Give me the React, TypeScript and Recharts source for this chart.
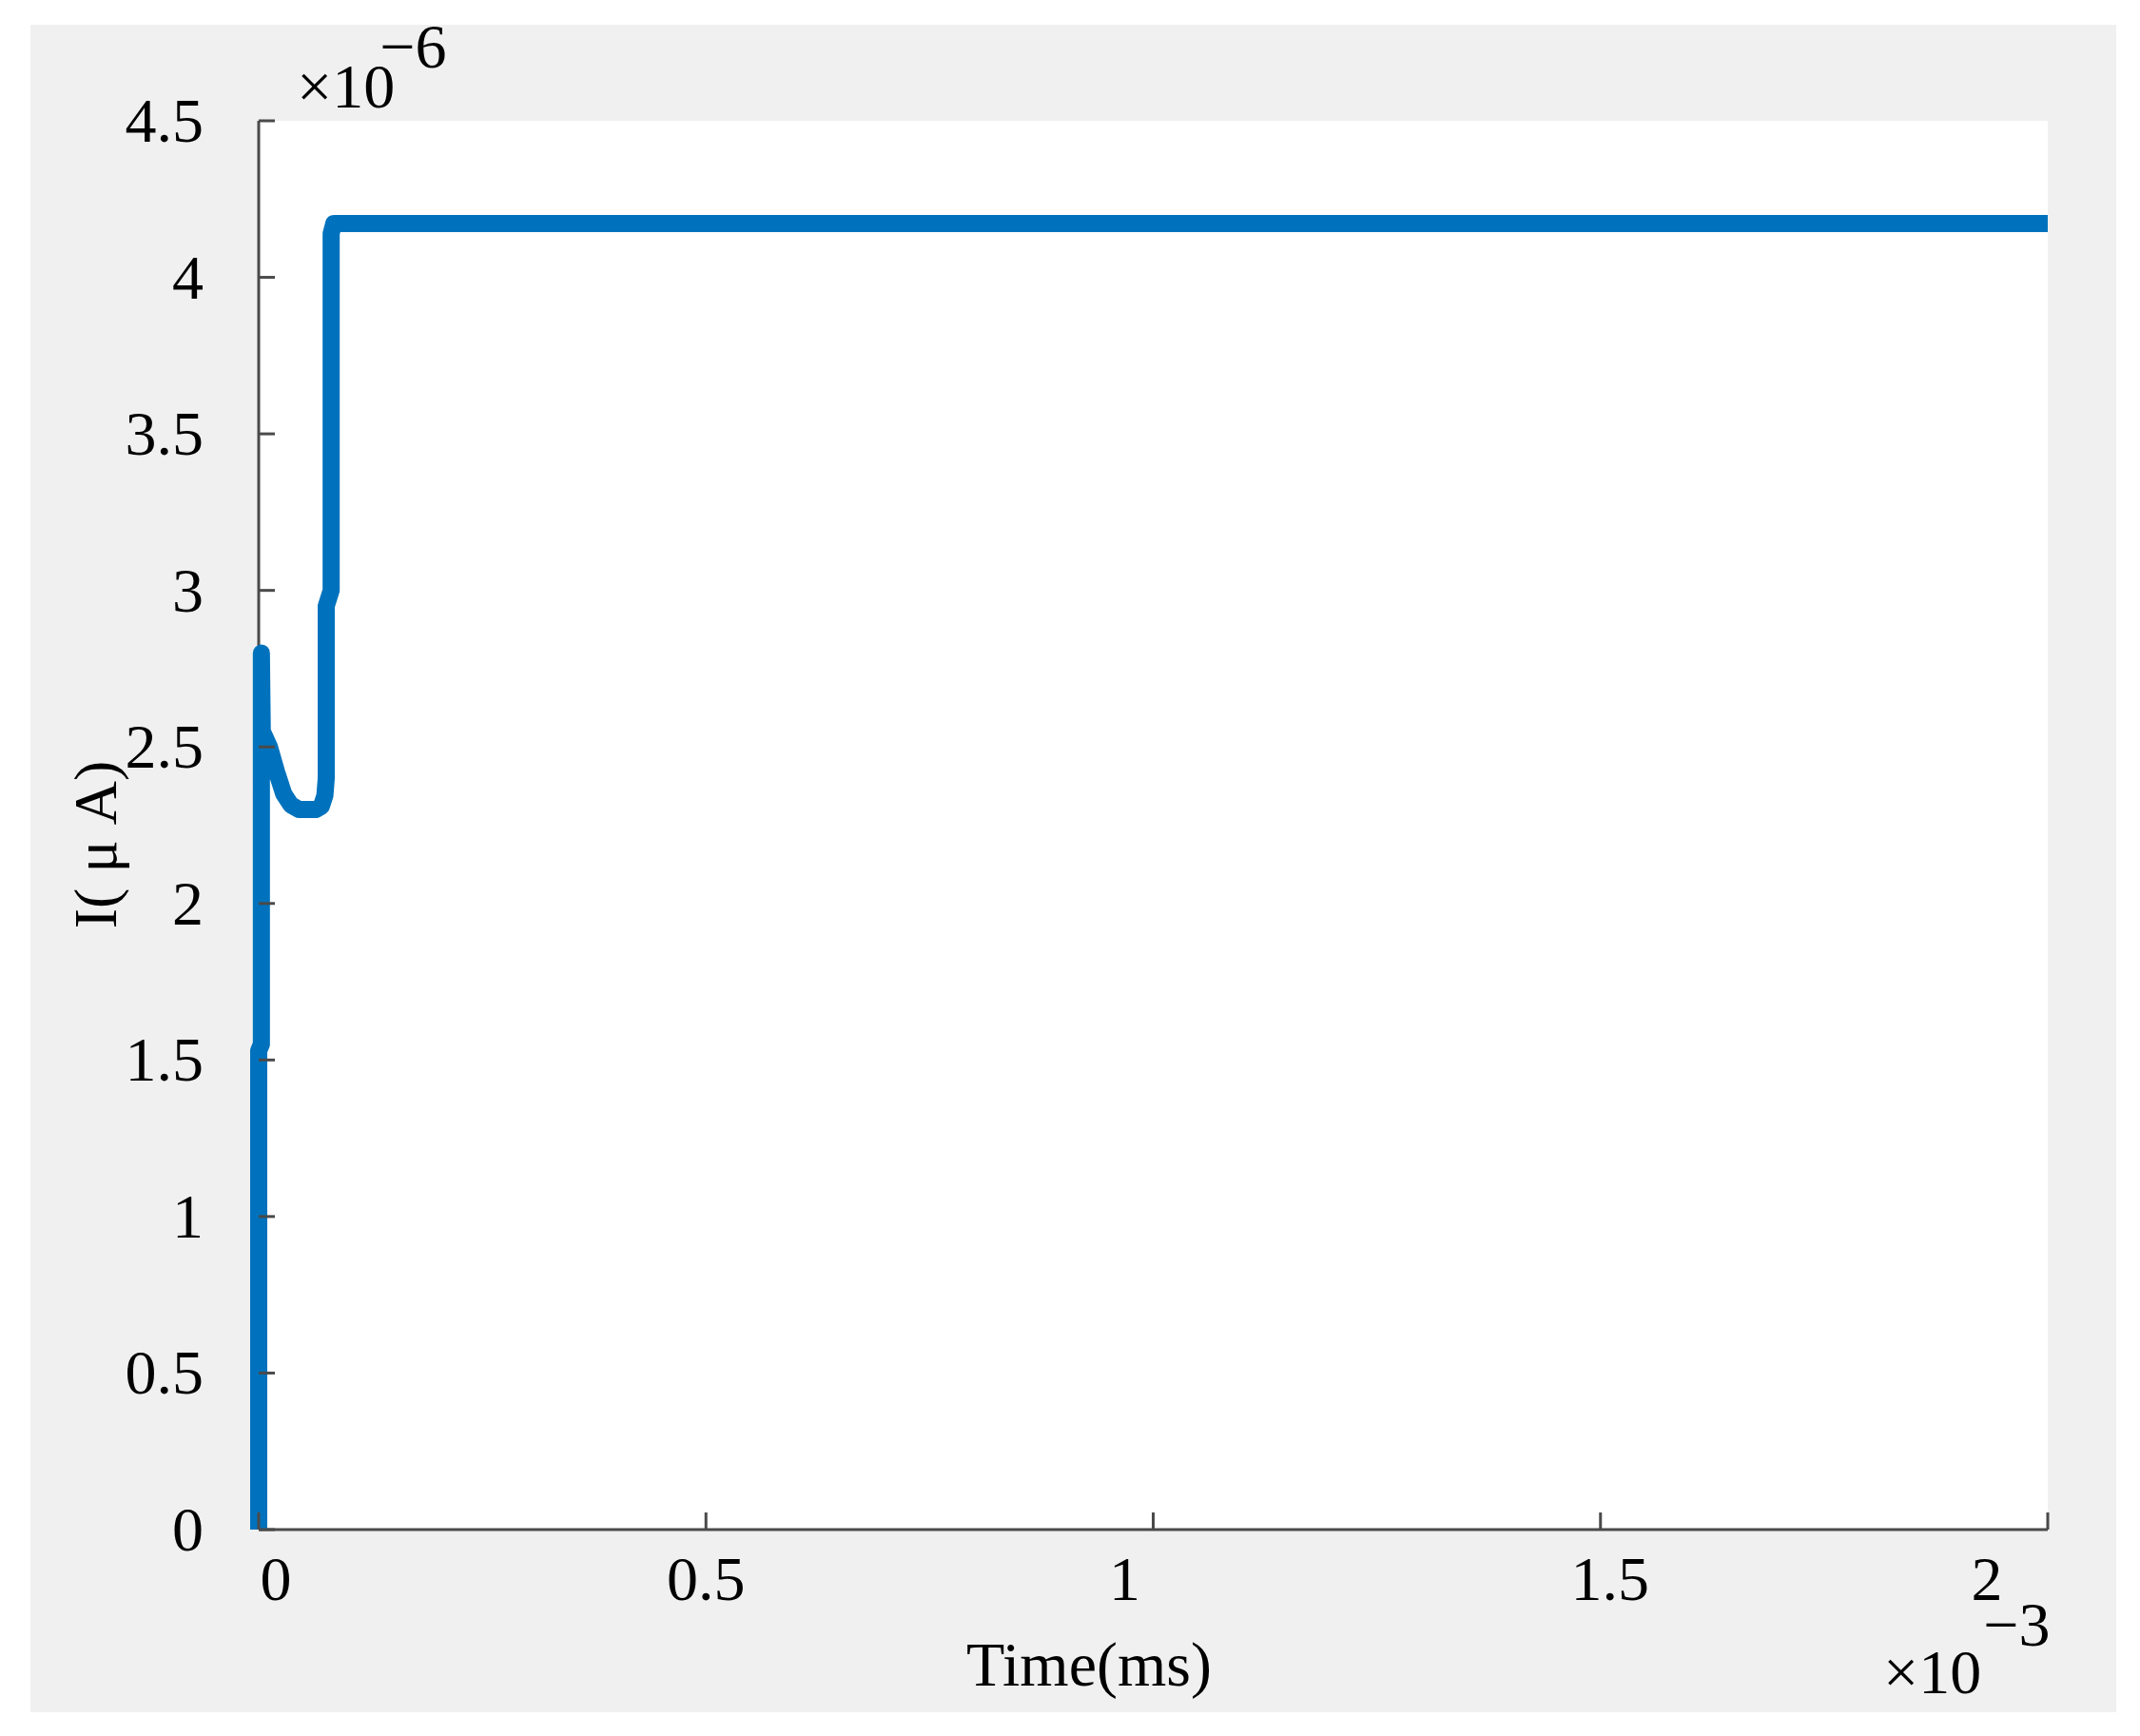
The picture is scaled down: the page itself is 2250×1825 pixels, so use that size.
import React from 'react';
import { LineChart, Line, XAxis, YAxis, CartesianGrid, Customized } from 'recharts';

// ---- data (time in units of 1e-3 ms, current in units of 1e-6 A) ----
const timeValues = [
  0, 0, 0.003, 0.003, 0.004, 0.012, 0.02, 0.028, 0.036, 0.045, 0.055, 0.064,
  0.07, 0.074, 0.0755, 0.0755, 0.081, 0.081, 0.084, 0.5, 1.0, 1.5, 2.0,
];
const currentValues = [
  0, 1.53, 1.55, 2.8, 2.55, 2.5, 2.42, 2.35, 2.315, 2.3, 2.3, 2.3,
  2.31, 2.345, 2.4, 2.95, 3.0, 4.14, 4.172, 4.172, 4.172, 4.172, 4.172,
];
const xTicks = [0, 0.5, 1, 1.5, 2];
const xTickLabels = ['0', '0.5', '1', '1.5', '2'];
const yTicks = [0, 0.5, 1, 1.5, 2, 2.5, 3, 3.5, 4, 4.5];
const yTickLabels = ['0', '0.5', '1', '1.5', '2', '2.5', '3', '3.5', '4', '4.5'];
const xTitle = 'Time(ms)';
const yTitle = 'I( μ A)';
const xExponent = '−3';
const yExponent = '−6';

const data = timeValues.map((t, i) => ({ t, i: currentValues[i] }));

const FONT = '"Liberation Serif", "Times New Roman", Times, serif';
const AXIS = '#4a4a4a';
const FS = 66;
const X_LABEL_SHIFT: Record<string, number> = { '0': 18, '0.5': 0, '1': -30, '1.5': 10, '2': -64 };

const XTick = (props: any) => {
  const { x, y, payload } = props;
  const idx = xTicks.indexOf(payload.value);
  const label = idx >= 0 ? xTickLabels[idx] : String(payload.value);
  const dx = X_LABEL_SHIFT[label] ?? 0;
  return (
    <g>
      <line x1={x} x2={x} y1={y} y2={y - 18} stroke={AXIS} strokeWidth={3} />
      <text x={x + dx} y={y + 74} textAnchor="middle" fontFamily={FONT} fontSize={FS} fill="#000">
        {label}
      </text>
    </g>
  );
};

const YTick = (props: any) => {
  const { x, y, payload } = props;
  const idx = yTicks.indexOf(payload.value);
  const label = idx >= 0 ? yTickLabels[idx] : String(payload.value);
  return (
    <g>
      <line x1={x} x2={x + 17} y1={y} y2={y} stroke={AXIS} strokeWidth={3} />
      <text x={x - 58} y={y + 22} textAnchor="end" fontFamily={FONT} fontSize={FS} fill="#000">
        {label}
      </text>
    </g>
  );
};

const Annotations = () => (
  <g fontFamily={FONT} fill="#000">
    <text x={312} y={113} fontSize={FS}>
      ×10
      <tspan dx={-16} dy={-42}>{yExponent}</tspan>
    </text>
    <text x={1980} y={1780} fontSize={FS}>
      ×10
      <tspan dx={2} dy={-50}>{xExponent}</tspan>
    </text>
    <text x={1145} y={1772} fontSize={FS} textAnchor="middle">{xTitle}</text>
    <text
      x={122}
      y={888}
      fontSize={64}
      textAnchor="middle"
      transform="rotate(-90 122 888)"
    >
      {yTitle}
    </text>
  </g>
);

export default function App() {
  return (
    <div style={{ position: 'absolute', left: 0, top: 0, width: 2250, height: 1825, background: '#ffffff' }}>
      <div
        style={{ position: 'absolute', left: 32, top: 26, width: 2193, height: 1774, background: '#f0f0f0' }}
      />
      <div style={{ position: 'absolute', left: 0, top: 0 }}>
        <LineChart
          width={2250}
          height={1825}
          data={data}
          margin={{ top: 127, right: 97, bottom: 157, left: 172 }}
        >
          <CartesianGrid horizontal={false} vertical={false} fill="#ffffff" stroke="none" />
          <XAxis
            type="number"
            dataKey="t"
            domain={[0, 2]}
            ticks={xTicks}
            interval={0}
            height={60}
            tickSize={0}
            tickMargin={0}
            tickLine={false}
            axisLine={{ stroke: AXIS, strokeWidth: 3 }}
            tick={<XTick />}
          />
          <YAxis
            type="number"
            domain={[0, 4.5]}
            ticks={yTicks}
            interval={0}
            width={100}
            tickSize={0}
            tickMargin={0}
            tickLine={false}
            axisLine={{ stroke: AXIS, strokeWidth: 3 }}
            tick={<YTick />}
          />
          <Line
            type="linear"
            dataKey="i"
            stroke="#0072BD"
            strokeWidth={18}
            strokeLinejoin="round"
            dot={false}
            activeDot={false}
            isAnimationActive={false}
            zIndex={600}
          />
          <Customized component={Annotations} />
        </LineChart>
      </div>
    </div>
  );
}
